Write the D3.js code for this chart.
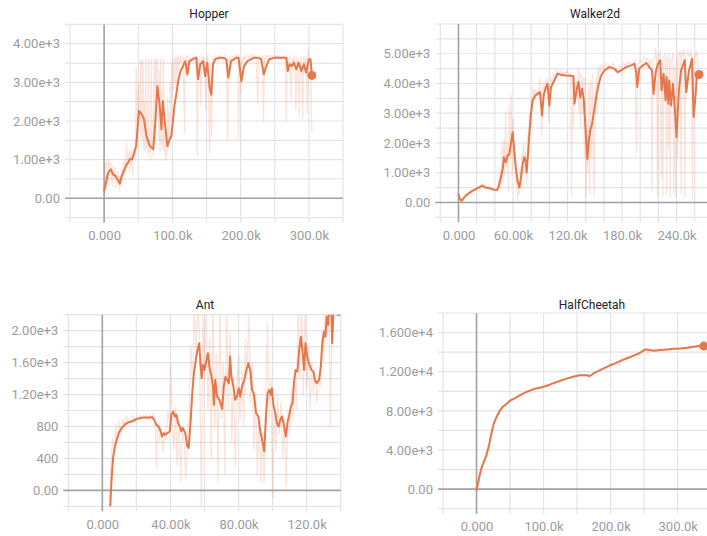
<!DOCTYPE html>
<html>
<head>
<meta charset="utf-8">
<script src="https://cdn.jsdelivr.net/npm/d3@7"></script>
<style>
  html, body { margin: 0; padding: 0; background: #fff; overflow: hidden; }
  svg { display: block; font-family: Roboto, "Helvetica Neue", Arial, sans-serif; }
</style>
</head>
<body>
<svg id="chart" width="707" height="536"></svg>
<script>
// ---- Episode return curves (steps in thousands) ----
const panelTitles = ["Hopper", "Walker2d", "Ant", "HalfCheetah"];

// Hopper
const hopperSmoothed = [[0,190],[5.9,660],[9.8,750],[13,620],[16.6,580],[19.5,490],[23,380],[25,535],[29,707],[33,880],[35,920],[37.6,1010],[41,1010],[44,1180],[47,1350],[51,2260],[55,2170],[58.5,2040],[62,1610],[67,1350],[72,1270],[75,1960],[78,2900],[81.5,2390],[84,1785],[86,2520],[89,1960],[92.7,1350],[96,1525],[98.5,1610],[101,2040],[103,2390],[106,2730],[109,3080],[112,3290],[115.6,3420],[119,3550],[122,3200],[125,3550],[130,3600],[135,3640],[137.6,3080],[141,3470],[145,3550],[148,3160],[151,3510],[154.6,2860],[157,2680],[159.5,3470],[163,3600],[169,3640],[174,3640],[179,3600],[182,3120],[186,3550],[194,3640],[197,3640],[201,3030],[205,3420],[210,3550],[215.6,3600],[220.5,3640],[225,3640],[230,3600],[234,3210],[237.6,3420],[242,3600],[250,3640],[259.5,3640],[267,3640],[269,3290],[271.7,3470],[275,3420],[278,3510],[281.5,3340],[285,3510],[289,3290],[292.7,3470],[296,3250],[300,3600],[302.4,3600],[304.4,3180]];
const hopperRaw = [[0,50],[1,400],[2,900],[3,250],[4,1000],[5,500],[6,950],[7,300],[8,1000],[9,600],[10,900],[11,400],[12,850],[13,300],[14,700],[15,500],[16,800],[17,250],[18,650],[19,400],[20,700],[21,300],[22,550],[23,200],[24,600],[25,350],[26,750],[27,450],[28,900],[29,600],[30,1000],[31,700],[32,1100],[33,1450],[34,800],[35,1150],[36,900],[37,1250],[38,700],[39,1200],[40,900],[41,1300],[42,600],[43,1250],[44,1000],[45,1500],[46,1100],[47,3380],[48,1500],[49,2800],[50,1700],[51,3000],[52,2000],[53,3600],[54,1600],[55,3550],[56,1500],[57,3600],[58,1300],[59,2500],[60,1200],[61,3600],[62,1300],[63,2200],[64,1100],[65,3600],[66,1200],[67,1800],[68,1000],[69,3600],[70,1300],[71,2000],[72,1100],[73,3600],[74,1500],[75,3000],[76,3600],[77,2400],[78,3600],[79,2600],[80,1500],[81,3300],[82,1200],[83,3600],[84,1400],[85,2800],[86,1300],[87,3600],[88,1200],[89,2200],[90,1000],[91,1800],[92,1100],[93,2600],[94,1300],[95,2200],[96,1500],[97,3000],[98,2000],[99,3500],[100,2600],[101,3600],[102,2800],[103,3650],[104,3000],[105,3600],[106,2900],[107,3700],[108,3200],[109,3650],[110,3400],[112,3700],[114,3500],[116,3650],[118,1700],[119,3600],[121,3700],[123,3400],[125,3700],[127,3500],[129,3650],[131,3550],[133,3700],[135,3600],[136.6,1100],[138,3600],[140,3500],[142,2400],[143,3700],[145,3600],[147,3650],[149,2300],[150,3600],[152,3700],[154.6,1150],[156,3500],[157.5,1600],[159,3650],[161,3600],[163,3700],[165,3650],[167,3550],[169,3700],[171,3600],[173,3650],[175,3550],[177,3700],[179,3600],[181,1500],[182.5,3500],[184,3650],[186,3550],[188,3700],[190,3600],[192,3700],[194,3650],[196,3750],[197,1550],[198.5,3600],[200,2700],[201.5,3650],[203,3500],[205,3700],[207,3600],[209,3700],[211,3650],[213,3700],[215,3600],[217,3750],[219,3650],[221,3700],[223,3600],[225,2450],[226.5,3650],[228,3700],[230,3600],[232,3700],[233.5,2000],[235,3600],[237,3700],[239,3650],[241,3700],[243,3600],[245,3700],[247,3650],[249,3700],[251,3600],[253,3700],[255,3650],[257,3700],[259,3600],[261,3700],[263,3650],[265,3700],[267,2000],[268.5,3600],[270,3400],[272,3700],[274,2500],[275.5,3650],[277,3500],[279,3700],[281,2300],[282.5,3650],[284,3500],[286,2100],[287.5,3650],[289,3500],[291,2050],[292.5,3650],[294,3500],[296,3700],[297.5,2200],[299,3850],[301,3600],[302.5,3500],[304.4,1700]];
const hopperXTicks = [0, 100, 200, 300];
const hopperXLabels = ["0.000", "100.0k", "200.0k", "300.0k"];
const hopperYTicks = [0, 1000, 2000, 3000, 4000];
const hopperYLabels = ["0.00", "1.00e+3", "2.00e+3", "3.00e+3", "4.00e+3"];

// Walker2d
const walkerSmoothed = [[0,280],[1.5,112],[3.7,56],[6.3,170],[10,280],[15.4,390],[21,480],[26.5,560],[29.4,505],[33.8,480],[39,430],[42,415],[44,505],[46.7,840],[49,1180],[50,1520],[52,1350],[54,1570],[56,1630],[57.7,1970],[59.6,2360],[61.4,1740],[63,1180],[65,730],[67,505],[68.8,840],[70.6,1290],[72.4,1520],[74,1400],[75,1010],[76.8,1740],[78,2300],[79.8,2980],[81.6,3430],[84.6,3600],[87,3650],[89.7,3710],[92,2920],[93.8,3600],[96.3,3880],[98,3990],[100,3260],[101.8,3880],[105.5,4100],[109,4330],[112.9,4290],[118,4270],[124,4260],[126.5,4240],[127.6,3320],[130,3770],[132,4050],[134,3540],[136,3820],[138,3430],[139.7,2530],[141.8,1450],[143.4,2080],[145,2420],[147,2640],[149,3030],[151.5,3540],[154.4,3990],[157,4270],[160.7,4440],[166,4550],[171.7,4500],[175,4380],[179,4440],[184.5,4550],[190,4610],[193.8,4660],[195.6,4380],[196.7,3880],[199,4500],[203,4610],[207,4690],[210,4550],[213,4440],[214.7,3650],[217,4380],[219.5,4660],[222,4780],[223.5,3770],[225.7,4330],[228,3430],[229,4220],[231,3320],[232,4100],[234,3260],[236,3990],[238,3200],[240,2190],[242.6,3770],[245,4440],[249,4780],[250.7,3710],[253.7,4440],[257,4830],[258.8,2870],[261,3650],[262.5,4330],[264.7,4300]];
const walkerRaw = [[0,300],[1,80],[2,0],[3,150],[5,120],[7,250],[9,300],[11,250],[13,400],[15,350],[17,450],[19,400],[21,550],[23,480],[25,620],[27,560],[29,650],[31,500],[33,550],[35,450],[37,500],[39,400],[41,450],[43,380],[44.5,700],[46,1100],[47,500],[48,2000],[49,700],[50,2100],[51,900],[52,3100],[53,1200],[54,2000],[55,400],[56,3300],[57,1500],[58,3600],[59,900],[60,2800],[61,1400],[62,2000],[63,600],[64,1000],[65,50],[66,600],[67,300],[68,1200],[69,400],[70,1700],[71,900],[72,2000],[73,1000],[74,1700],[75,600],[76,2300],[77,1500],[78,3000],[79,2500],[80,3500],[81,3200],[82,3900],[83,3400],[84,3800],[85,3500],[86,3750],[88,3650],[89.5,4200],[90.5,3700],[91.5,2200],[92.5,3700],[93.5,4000],[94.5,3600],[95.5,4100],[96.5,3800],[97.5,4200],[98.5,3700],[99.5,2700],[100.5,3900],[101.5,4200],[103,3950],[104.5,4350],[106,4150],[108,4450],[110,4300],[112,4450],[114,4250],[116,4400],[118,4300],[120,4450],[122,4250],[123.5,4350],[124.5,200],[125.5,4200],[126.5,2600],[127.5,4000],[128.5,3600],[129.5,4100],[130.5,3500],[131.5,4500],[132.5,3000],[133.5,4400],[134.5,2500],[135.5,4300],[136.5,3000],[137.5,4200],[138.5,1500],[139.5,4200],[140.5,200],[141.5,2800],[142.5,1000],[143.5,4000],[144.5,300],[145.5,4100],[146.5,1500],[147.5,4300],[148.5,2000],[149.5,200],[150.5,3800],[151.5,4200],[152.5,3000],[153.5,4500],[154.5,4200],[155.5,4600],[156.5,4400],[158,4650],[160,4500],[162,4700],[164,4500],[166,4650],[168,4550],[170,4700],[172,4400],[174,4500],[176,4300],[178,4600],[180,4500],[182,4700],[184,4550],[186,4750],[188,4600],[190,4700],[192,4650],[194,4800],[196,1650],[197,4500],[198,4650],[200,4800],[202,4700],[204,4900],[206,4750],[208,4850],[210,4650],[212,4800],[213,400],[214,4700],[216,4900],[217,5200],[218,4700],[219,200],[220,4900],[222,5100],[223,800],[224,4800],[225,200],[226,4900],[228,5000],[229,300],[230,4900],[231,1800],[232,5000],[233,200],[234,4800],[236,5000],[237,300],[238,4600],[239,200],[240,4900],[241,1500],[242,5000],[244,5100],[245,300],[246,5000],[248,5150],[249,200],[250,5000],[252,5100],[254,4900],[256,5100],[257.5,100],[258.5,4500],[260,4900],[262,5050],[263.5,4600],[264.7,4300]];
const walkerXTicks = [0, 60, 120, 180, 240];
const walkerXLabels = ["0.000", "60.00k", "120.0k", "180.0k", "240.0k"];
const walkerYTicks = [0, 1000, 2000, 3000, 4000, 5000];
const walkerYLabels = ["0.00", "1.00e+3", "2.00e+3", "3.00e+3", "4.00e+3", "5.00e+3"];

// Ant
const antSmoothed = [[4.2,-400],[5.5,175],[6.4,425],[7.4,550],[8.4,633],[9.7,717],[11.3,780],[13.3,825],[15.2,850],[17.2,862],[20,892],[23,908],[26,912],[27.9,912],[29.2,917],[30.4,883],[31.8,820],[33,800],[34.3,737],[35,675],[36,717],[37,696],[38.2,717],[39.6,737],[40.5,946],[41.7,988],[42.5,925],[43.5,946],[44.4,842],[45.6,800],[46.4,737],[47.4,780],[48.7,717],[49.9,550],[50.7,530],[51.9,883],[52.8,1217],[53.8,1467],[55.2,1675],[56.1,1780],[56.9,1842],[57.7,1571],[58.3,1404],[59,1571],[60,1508],[61,1613],[62,1717],[63,1529],[64,1446],[65,1300],[65.5,1071],[66.3,1383],[67.4,1175],[68.8,1133],[70.4,1020],[71.3,1300],[72.3,1425],[73.3,1383],[74.3,1342],[75,1675],[75.8,1425],[77,1300],[78,1133],[79.1,1175],[80.1,1279],[81,1175],[82,1300],[83.4,1383],[84.6,1508],[85.8,1592],[87,1488],[87.9,1258],[88.9,1217],[90.3,967],[91.6,925],[92.8,738],[94.2,592],[95.1,488],[96.1,925],[97.1,1217],[98,1258],[99,1196],[99.6,1279],[100.6,1050],[101.6,967],[102.5,842],[103.5,800],[104.5,883],[105.5,925],[106.4,842],[107.8,675],[108.8,862],[109.7,925],[110.7,1050],[111.7,1092],[112.7,1383],[113.6,1508],[114.6,1488],[115.6,1758],[116.6,1925],[117.5,1758],[118.5,1508],[119.3,1842],[120.5,1654],[121.4,1592],[122.8,1508],[124,1488],[124.8,1383],[125.9,1342],[127.3,1383],[128.3,1550],[129.2,1842],[130.2,1988],[131,1925],[131.8,2175],[132.6,2071],[133.1,2230],[134.5,2215],[135,1842],[135.7,2220],[137,2225],[139,2240]];
const antRaw = [[4,-300],[5,300],[6,650],[7,450],[8,820],[9,600],[10,870],[11,700],[12,900],[13,800],[14,940],[15,850],[16,900],[17,870],[18,950],[19,850],[20,920],[21,880],[22,950],[23,890],[24,940],[25,900],[26,960],[27,880],[28,950],[29,900],[30,980],[31,850],[31.8,280],[32.5,850],[33.5,600],[34.5,800],[35.5,480],[36.5,750],[37.5,650],[38.5,1000],[39.5,850],[40.2,1600],[41,900],[42,500],[43,1050],[44,300],[45,950],[46,100],[47,800],[48,600],[49,150],[50,700],[51,900],[52,1800],[53,1300],[54,2400],[55,1600],[56,2400],[57,1900],[58.2,-300],[59,2200],[60,1400],[61,2400],[62,1000],[63,1900],[64,400],[65,2400],[66,800],[67,1700],[68,100],[69,2400],[70,900],[71,1600],[72,200],[73,2400],[74,1000],[75,2000],[76,600],[77,1400],[78,300],[79,1300],[80,1700],[81,900],[82,1500],[83,800],[84,1900],[85,1400],[86,2300],[87,1100],[88,1600],[89,500],[90,1200],[91,200],[92,900],[93,100],[94,700],[95,100],[96,1200],[97,2100],[98,900],[99,1400],[100,-100],[101,1000],[102,500],[103,1200],[104,700],[105,1100],[106,400],[107,900],[108,50],[109,1000],[110,700],[111,1300],[112,900],[113,1500],[114,1000],[115,2400],[116,1400],[117,2400],[118,1200],[119,2300],[120,1300],[121,1800],[122,1000],[123,1600],[124,1200],[125,1500],[126,1100],[127,1400],[128,1300],[129,2000],[130,1600],[131,2400],[132,1900],[133,2400],[134,800],[135,2400],[136,2300],[137,2400],[139,2350]];
const antXTicks = [0, 40, 80, 120];
const antXLabels = ["0.000", "40.00k", "80.00k", "120.0k"];
const antYTicks = [0, 400, 800, 1200, 1600, 2000];
const antYLabels = ["0.00", "400", "800", "1.20e+3", "1.60e+3", "2.00e+3"];

// HalfCheetah
const cheetahSmoothed = [[0,-170],[2,510],[4.5,1360],[7,2040],[10.5,2720],[14.5,3400],[18.5,4420],[22,5610],[25.4,6630],[29.4,7310],[34.4,7990],[39.4,8430],[44.4,8670],[49.4,9010],[56.9,9280],[64.4,9590],[74.4,9930],[84.3,10200],[94.3,10370],[104,10540],[114,10810],[124,11050],[134,11290],[144,11490],[154,11630],[164,11630],[169,11560],[176.6,11900],[186.6,12240],[196.6,12580],[206.6,12850],[216.6,13160],[226.5,13430],[236.5,13700],[244,13940],[250,14210],[254,14280],[264,14140],[274,14210],[284,14280],[294,14350],[304,14380],[314,14450],[324,14550],[334,14650],[339,14620]];
const cheetahRaw = [[0,-300],[2,700],[4,1200],[6,2200],[8,2300],[10,2900],[12,3100],[14,3500],[16,4000],[18,4600],[20,5000],[22,5800],[24,6300],[26,6800],[28,7100],[30,7500],[33,7800],[36,8200],[39,8500],[42,8600],[45,8900],[48,8900],[52,9200],[56,9300],[60,9400],[65,9700],[70,9800],[75,10000],[80,10100],[85,10250],[90,10300],[95,10450],[100,10400],[105,10600],[110,10700],[115,10900],[120,10900],[125,11100],[130,11200],[135,11300],[140,11400],[145,11500],[150,11600],[155,11700],[160,11650],[165,11700],[168,11200],[170,11600],[175,11950],[180,12000],[185,12250],[190,12300],[195,12500],[200,12600],[205,12800],[210,12950],[213,12600],[215,13200],[220,13300],[225,13500],[230,13500],[235,13800],[240,13800],[245,14000],[250,14300],[253,14350],[256,13700],[258,14250],[262,14100],[266,14300],[270,14100],[274,14300],[278,14150],[282,14350],[286,14200],[290,14400],[294,14300],[298,14450],[302,14300],[306,14500],[310,14400],[314,14500],[318,14450],[322,14600],[326,14500],[330,14650],[334,14700],[339,14650]];
const cheetahXTicks = [0, 100, 200, 300];
const cheetahXLabels = ["0.000", "100.0k", "200.0k", "300.0k"];
const cheetahYTicks = [0, 4000, 8000, 12000, 16000];
const cheetahYLabels = ["0.00", "4.00e+3", "8.00e+3", "1.200e+4", "1.600e+4"];

// ---- Layout of the four cards ----
const panels = [
  { title: panelTitles[0], smoothed: hopperSmoothed, raw: hopperRaw,
    xTicks: hopperXTicks, xLabels: hopperXLabels, yTicks: hopperYTicks, yLabels: hopperYLabels,
    box: { left: 70, right: 343, top: 24.4, bottom: 217.6 }, xDomain: [-50, 350], yDomain: [-500, 4500],
    xGrid: 50, yGrid: 500, titleAt: [209, 17.5] },
  { title: panelTitles[1], smoothed: walkerSmoothed, raw: walkerRaw,
    xTicks: walkerXTicks, xLabels: walkerXLabels, yTicks: walkerYTicks, yLabels: walkerYLabels,
    box: { left: 440.3, right: 712.9, top: 24, bottom: 217.3 }, xDomain: [-20, 280], yDomain: [-500, 6000],
    xGrid: 20, yGrid: 500, titleAt: [595, 17.5] },
  { title: panelTitles[2], smoothed: antSmoothed, raw: antRaw,
    xTicks: antXTicks, xLabels: antXLabels, yTicks: antYTicks, yLabels: antYLabels,
    box: { left: 68.3, right: 340.7, top: 314.7, bottom: 506.3 }, xDomain: [-20, 140], yDomain: [-200, 2200],
    xGrid: 20, yGrid: 200, titleAt: [205, 308.5] },
  { title: panelTitles[3], smoothed: cheetahSmoothed, raw: cheetahRaw,
    xTicks: cheetahXTicks, xLabels: cheetahXLabels, yTicks: cheetahYTicks, yLabels: cheetahYLabels,
    box: { left: 443, right: 711.2, top: 313, bottom: 508.7 }, xDomain: [-50, 350], yDomain: [-2000, 18000],
    xGrid: 50, yGrid: 2000, titleAt: [592, 308.5] }
];

const lineColor = "#e5774c";
const gridColor = "#e4e4e4";
const axisColor = "#a3a3a3";
const labelColor = "#9c9c9c";
const tickOut = 5;

const svg = d3.select("#chart");

panels.forEach((p, i) => {
  const b = p.box;
  const x = d3.scaleLinear().domain(p.xDomain).range([b.left, b.right]);
  const y = d3.scaleLinear().domain(p.yDomain).range([b.bottom, b.top]);
  const g = svg.append("g").attr("class", "panel");

  // grid lines (extend slightly past the frame as tick marks)
  const xGridVals = d3.range(p.xDomain[0], p.xDomain[1] + 1e-6, p.xGrid);
  const yGridVals = d3.range(p.yDomain[0], p.yDomain[1] + 1e-6, p.yGrid);
  g.append("g").selectAll("line").data(xGridVals).join("line")
    .attr("x1", d => x(d)).attr("x2", d => x(d))
    .attr("y1", b.top).attr("y2", b.bottom + tickOut)
    .attr("stroke", gridColor).attr("stroke-width", 1.2);
  g.append("g").selectAll("line").data(yGridVals).join("line")
    .attr("x1", b.left - tickOut).attr("x2", b.right)
    .attr("y1", d => y(d)).attr("y2", d => y(d))
    .attr("stroke", gridColor).attr("stroke-width", 1.2);

  // zero axes
  g.append("line")
    .attr("x1", x(0)).attr("x2", x(0)).attr("y1", b.top).attr("y2", b.bottom + tickOut)
    .attr("stroke", axisColor).attr("stroke-width", 1.6);
  g.append("line")
    .attr("x1", b.left - tickOut).attr("x2", b.right).attr("y1", y(0)).attr("y2", y(0))
    .attr("stroke", axisColor).attr("stroke-width", 1.6);

  // tick labels
  const xAxis = d3.axisBottom(x).tickValues(p.xTicks).tickSize(0).tickPadding(0)
    .tickFormat((d, k) => p.xLabels[k]);
  const xa = g.append("g").attr("transform", `translate(0,${b.bottom + 13})`).call(xAxis);
  const yAxis = d3.axisLeft(y).tickValues(p.yTicks).tickSize(0).tickPadding(10)
    .tickFormat((d, k) => p.yLabels[k]);
  const ya = g.append("g").attr("transform", `translate(${b.left},0)`).call(yAxis);
  [xa, ya].forEach(a => {
    a.select(".domain").remove();
    a.selectAll("text").attr("fill", labelColor).style("font-size", "13px")
      .style("font-family", "Roboto, 'Helvetica Neue', Arial, sans-serif");
  });

  // title
  g.append("text")
    .attr("x", p.titleAt[0]).attr("y", p.titleAt[1])
    .attr("text-anchor", "middle").attr("fill", "#222")
    .style("font-size", "12px").text(p.title);

  // series, clipped to the frame
  const clipId = "clip" + i;
  svg.append("clipPath").attr("id", clipId).append("rect")
    .attr("x", b.left).attr("y", b.top).attr("width", b.right - b.left).attr("height", b.bottom - b.top);
  const plot = g.append("g").attr("clip-path", `url(#${clipId})`);
  const line = d3.line().x(d => x(d[0])).y(d => y(d[1]));

  plot.append("path").datum(p.raw).attr("d", line)
    .attr("fill", "none").attr("stroke", lineColor).attr("stroke-opacity", 0.2)
    .attr("stroke-width", 1.3).attr("stroke-linejoin", "round");
  plot.append("path").datum(p.smoothed).attr("d", line)
    .attr("fill", "none").attr("stroke", lineColor)
    .attr("stroke-width", 2).attr("stroke-linejoin", "round");
  const last = p.smoothed[p.smoothed.length - 1];
  plot.append("circle").attr("cx", x(last[0])).attr("cy", y(last[1])).attr("r", 4.5)
    .attr("fill", lineColor);
});
</script>
</body>
</html>
